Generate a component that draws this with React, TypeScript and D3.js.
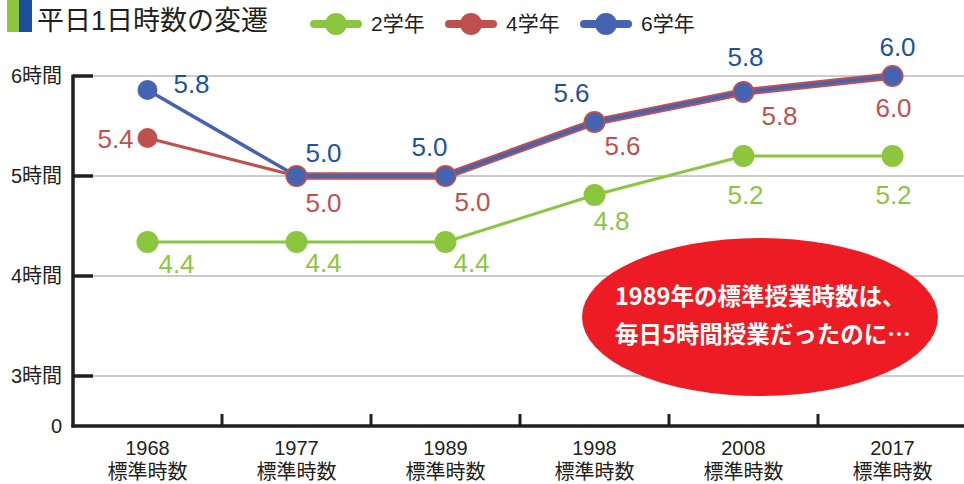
import React from "react";
import * as d3 from "d3";

// 平日1日時数の変遷
const years = ["1968", "1977", "1989", "1998", "2008", "2017"];
const subLabel = "標準時数";
const grade2 = [4.34, 4.34, 4.34, 4.81, 5.2, 5.2];
const grade4 = [5.38, 5.0, 5.0, 5.54, 5.84, 6.0];
const grade6 = [5.86, 5.0, 5.0, 5.54, 5.84, 6.0];
const grade2Labels = ["4.4", "4.4", "4.4", "4.8", "5.2", "5.2"];
const grade4Labels = ["5.4", "5.0", "5.0", "5.6", "5.8", "6.0"];
const grade6Labels = ["5.8", "5.0", "5.0", "5.6", "5.8", "6.0"];
const yTicks = [0, 3, 4, 5, 6];
const yTickLabels = ["0", "3時間", "4時間", "5時間", "6時間"];
const seriesNames = ["2学年", "4学年", "6学年"];
const title = "平日1日時数の変遷";
const noteLines = ["1989年の標準授業時数は、", "毎日5時間授業だったのに…"];

// label placement relative to each point (dx to centre, dy to baseline)
const offs2 = [[29, 31], [27, 30], [26, 30], [17, 35], [2, 48], [1, 48]];
const offs4 = [[-32, 10], [27, 36], [27, 35], [28, 33], [36, 33], [1, 41]];
const offs6 = [[44, 3], [27, -14], [-16, -20], [-23, -20], [2, -26], [5, -20]];

const GREEN = "#8cc63f";
const RED = "#c0504d";
const BLUE = "#4463b0";
const BLUE_TXT = "#1b52a2";
const JP = "'Liberation Sans', 'Noto Sans CJK JP', sans-serif";
const CJK = "'Noto Sans CJK JP', sans-serif";
const NUM = "'Liberation Sans', Arial, sans-serif";

const W = 964, H = 484;

export default function App() {
  const x = d3.scaleBand().domain(years).range([73, 967]);
  const cx = (i: number) => x(years[i])! + x.bandwidth() / 2;
  // broken axis: 0..3 squeezed, 3..6 at 100px per hour
  const y = d3.scaleLinear().domain([0, 3, 6]).range([426, 376, 76]);

  const line = d3.line<number>().x((d, i) => cx(i)).y((d) => y(d));
  const overlap = d3
    .line<number>()
    .defined((d, i) => grade4[i] === grade6[i])
    .x((d, i) => cx(i))
    .y((d) => y(d));

  const legendX = [310, 445, 580];
  const legendColors = [GREEN, RED, BLUE];

  const labels = (vals: number[], texts: string[], offs: number[][], color: string) =>
    vals.map((v, i) => (
      <text key={i} x={cx(i) + offs[i][0]} y={y(v) + offs[i][1]} textAnchor="middle"
        fontFamily={NUM} fontSize={26} fill={color}>{texts[i]}</text>
    ));

  return (
    <div style={{ position: "fixed", left: 0, top: 0 }}>
      <svg width={W} height={H} style={{ display: "block", background: "#fff" }}>
        {/* title */}
        <rect x={7} y={0} width={12} height={32} fill={GREEN} />
        <rect x={19} y={0} width={13} height={32} fill="#1b4f9e" />
        <text x={37} y={30} fontFamily={JP} fontSize={27} fill="#231f20">{title}</text>

        {/* legend */}
        {seriesNames.map((s, i) => (
          <g key={s}>
            <line x1={legendX[i] + 4} x2={legendX[i] + 48} y1={24} y2={24} stroke={legendColors[i]}
              strokeWidth={8} strokeLinecap="round" />
            <circle cx={legendX[i] + 26} cy={24} r={11} fill={legendColors[i]} />
            <text x={legendX[i] + 61} y={31} fontFamily={JP} fontSize={21} fill="#231f20">{s}</text>
          </g>
        ))}

        {/* grid */}
        {yTicks.filter((t) => t > 0).map((t) => (
          <line key={t} x1={93} x2={W} y1={y(t)} y2={y(t)} stroke="#999" strokeWidth={1.2} />
        ))}

        {/* note ellipse */}
        <ellipse cx={760} cy={317} rx={178} ry={79} fill="#ed1c24" />
        {noteLines.map((l, i) => (
          <text key={i} x={615} y={305 + i * 38} fontFamily={CJK} fontSize={23.5} fontWeight="bold" fill="#fff">{l}</text>
        ))}

        {/* axes */}
        <line x1={73} x2={73} y1={y(6) - 1.5} y2={y(0) + 1.5} stroke="#231f20" strokeWidth={3.5} />
        <line x1={71.5} x2={W} y1={y(0)} y2={y(0)} stroke="#231f20" strokeWidth={3.5} />
        {yTicks.filter((t) => t > 0).map((t) => (
          <line key={t} x1={73} x2={93} y1={y(t)} y2={y(t)} stroke="#231f20" strokeWidth={3.5} />
        ))}
        {years.slice(1).map((yr) => (
          <line key={yr} x1={x(yr)!} x2={x(yr)!} y1={y(0)} y2={y(0) - 12} stroke="#231f20" strokeWidth={3} />
        ))}
        {yTicks.map((t, i) => (
          <text key={t} x={62} y={y(t)} dy="0.36em" textAnchor="end" fontFamily={JP} fontSize={20} fill="#231f20">
            {yTickLabels[i]}
          </text>
        ))}
        {years.map((yr, i) => (
          <g key={yr}>
            <text x={cx(i)} y={455} textAnchor="middle" fontFamily={JP} fontSize={20} fill="#231f20">{yr}</text>
            <text x={cx(i)} y={479} textAnchor="middle" fontFamily={JP} fontSize={20} fill="#231f20">{subLabel}</text>
          </g>
        ))}

        {/* 2学年 */}
        <path d={line(grade2)!} fill="none" stroke={GREEN} strokeWidth={3} />
        {grade2.map((v, i) => <circle key={i} cx={cx(i)} cy={y(v)} r={11} fill={GREEN} />)}

        {/* 4学年 / 6学年 */}
        <path d={line(grade4)!} fill="none" stroke={RED} strokeWidth={3} />
        <path d={overlap(grade4)!} fill="none" stroke={RED} strokeWidth={7.5} />
        <path d={line(grade6)!} fill="none" stroke={BLUE} strokeWidth={3.5} />
        {grade4.map((v, i) => <circle key={i} cx={cx(i)} cy={y(v)} r={grade4[i] === grade6[i] ? 11 : 10} fill={RED} />)}
        {grade6.map((v, i) => <circle key={i} cx={cx(i)} cy={y(v)} r={grade4[i] === grade6[i] ? 9.3 : 10} fill={BLUE} />)}

        {labels(grade2, grade2Labels, offs2, GREEN)}
        {labels(grade4, grade4Labels, offs4, RED)}
        {labels(grade6, grade6Labels, offs6, BLUE_TXT)}
      </svg>
    </div>
  );
}
